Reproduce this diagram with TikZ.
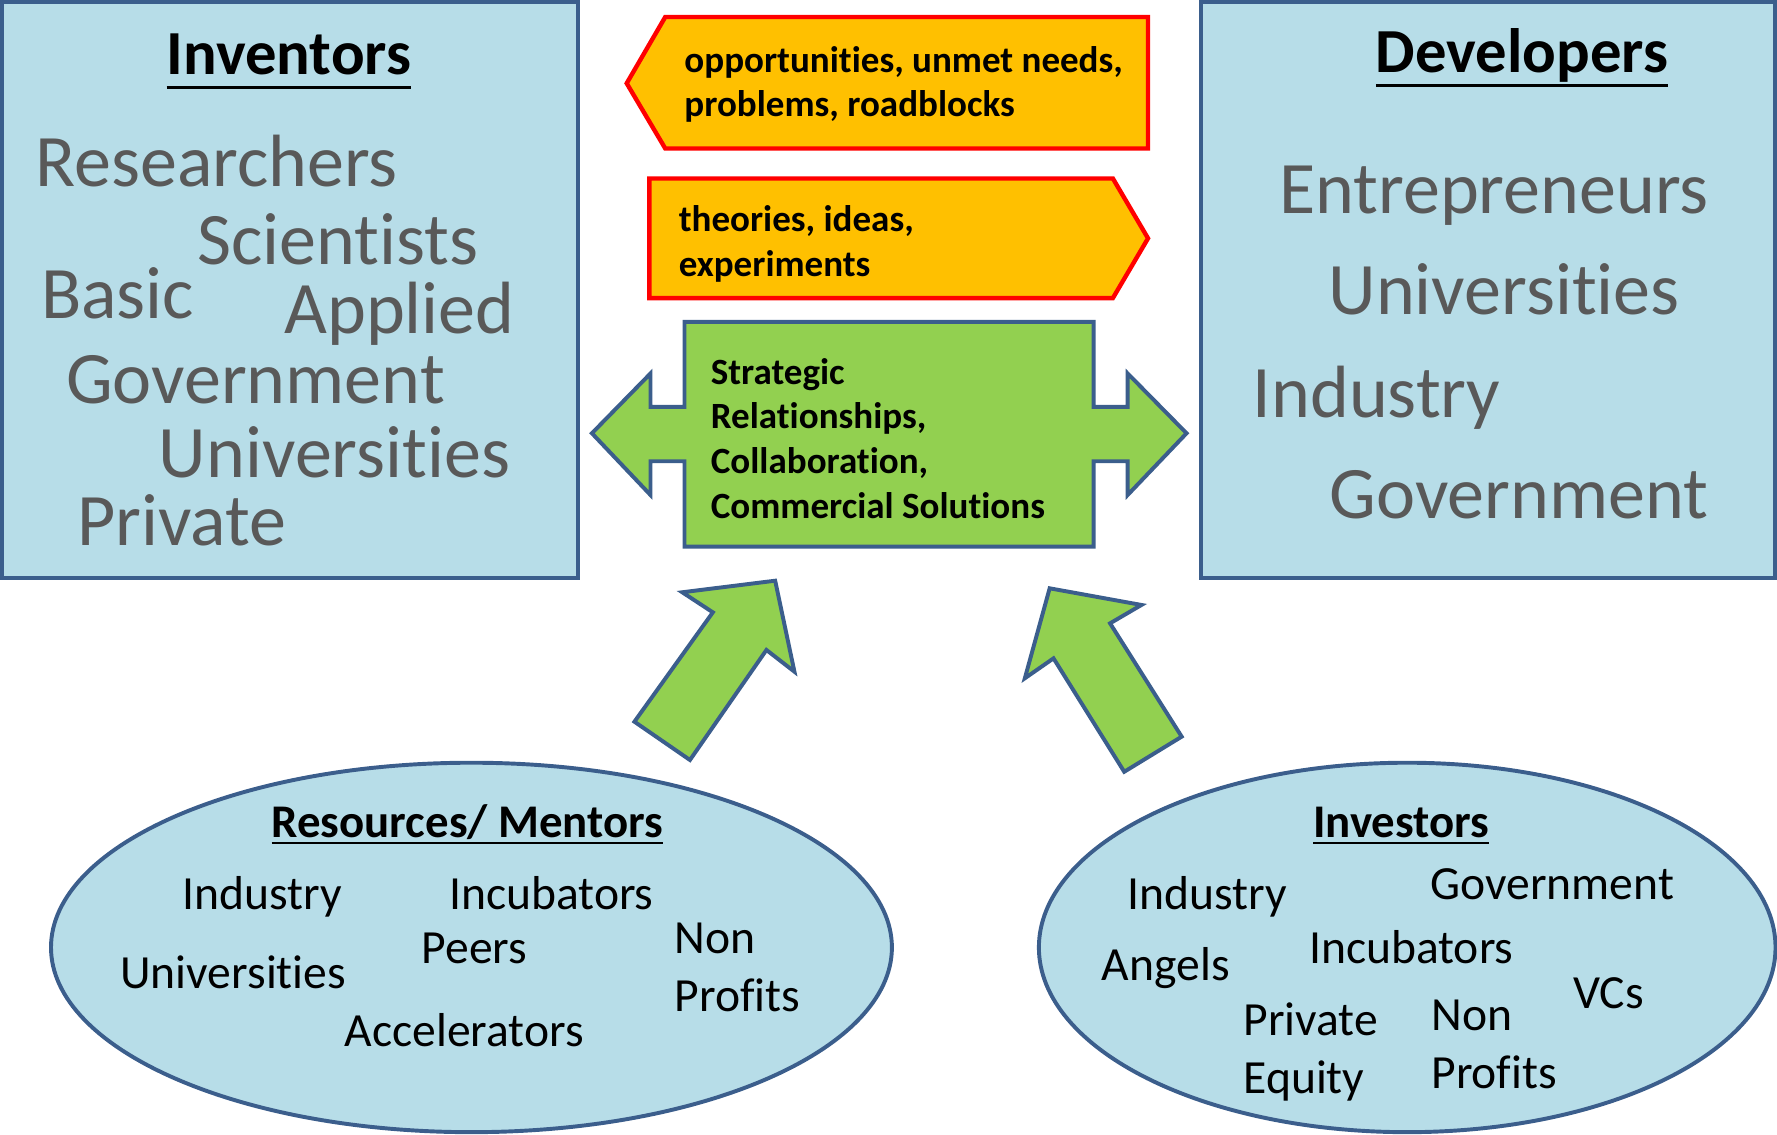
\documentclass[tikz,border=0pt]{standalone}
\usepackage{fontspec}
\setmainfont[Ligatures=CommonOff]{Carlito}
\usepackage{tikz}

\newcommand{\ulhead}[2][0.23em]{\setbox0\hbox{#2}\rlap{#2}\raisebox{-#1}{\rule{\wd0}{0.055em}}}

\begin{document}
\begin{tikzpicture}[x=0.75pt,y=0.75pt,yscale=-1,xscale=1,
  panel/.style={draw={rgb, 255:red, 59; green, 94; blue, 140}, fill={rgb, 255:red, 183; green, 221; blue, 232}, line width=2.6pt},
  tagshape/.style={draw={rgb, 255:red, 255; green, 0; blue, 0}, fill={rgb, 255:red, 255; green, 192; blue, 0}, line width=2.9pt},
  relshape/.style={draw={rgb, 255:red, 59; green, 94; blue, 140}, fill={rgb, 255:red, 146; green, 208; blue, 80}, line width=2.6pt},
  boxword/.style={inner sep=0pt, anchor=base west, text={rgb, 255:red, 89; green, 89; blue, 89}, font=\fontsize{49}{59}\selectfont},
  boxhead/.style={inner sep=0pt, anchor=base, font=\fontsize{41.5}{50}\selectfont\bfseries},
  tagtext/.style={inner sep=0pt, anchor=base west, align=left, font=\fontsize{24.5}{29.6}\selectfont\bfseries},
  ringword/.style={inner sep=0pt, anchor=base west, align=left, font=\fontsize{31.5}{38.25}\selectfont},
  ringhead/.style={inner sep=0pt, anchor=base, font=\fontsize{31}{38}\selectfont\bfseries}]
\useasboundingbox (0,0) rectangle (1568,1001);

%Shape: Rectangle
\draw [panel] (1.5,1.5) rectangle (510,510) ;
%Shape: Rectangle
\draw [panel] (1060,1.5) rectangle (1566,510) ;
%Shape: Ellipse
\draw [panel] (416,836) ellipse [x radius=371, y radius=163] ;
%Shape: Ellipse
\draw [panel] (1241.7,836) ellipse [x radius=325, y radius=163] ;

%Shape: Pentagon (left)
\draw [tagshape] (553,73.5) -- (587,15) -- (1013,15) -- (1013,131) -- (587,131) -- cycle ;
%Shape: Pentagon (right)
\draw [tagshape] (573,157.5) -- (982,157.5) -- (1013,210.3) -- (982,263) -- (573,263) -- cycle ;

%Shape: Left-Right Arrow Callout
\draw [relshape] (604,284) -- (965,284) -- (965,359) -- (995,359) -- (995,329.5) -- (1047,382.3) -- (995,436.8) -- (995,407) -- (965,407) -- (965,482.4) -- (604,482.4) -- (604,407) -- (574,407) -- (574,436.8) -- (522.3,382.3) -- (574,329.5) -- (574,359) -- (604,359) -- cycle ;

%Shape: Up Arrow (left)
\draw [relshape] (559.8,636.8) -- (608.8,670.6) -- (676.3,573.5) -- (701,592.7) -- (684,512.4) -- (602,522.6) -- (629,540.3) -- cycle ;
%Shape: Up Arrow (right)
\draw [relshape] (1042.7,650) -- (992,681) -- (929.6,580.9) -- (904.3,598.5) -- (926.2,519.1) -- (1007.2,533.8) -- (979.5,550) -- cycle ;

% Text Node
\draw (255,65.9) node [boxhead] (inventors) {\ulhead{Inventors}};
\draw (31,164.5) node [boxword] (researchers) {Researchers};
\draw (174,233.7) node [boxword] (scientists) {Scientists};
\draw (36,281) node [boxword] (basic) {Basic};
\draw (250.6,294.5) node [boxword] (applied) {Applied};
\draw (58,356) node [boxword] (invgov) {Government};
\draw (140,421) node [boxword] (invuni) {Universities};
\draw (68,481) node [boxword] (invpriv) {Private};

% Text Node
\draw (1343,64.4) node [boxhead] (developers) {\ulhead{Developers}};
\draw (1128.4,188.3) node [boxword] (entrepreneurs) {Entrepreneurs};
\draw (1172,277.5) node [boxword] (devuni) {Universities};
\draw (1105,368.4) node [boxword] (devind) {Industry};
\draw (1173,457.5) node [boxword] (devgov) {Government};

% Text Node (base = last line)
\draw (603.7,103) node [tagtext] (needs) {opportunities, unmet needs,\\problems, roadblocks};
\draw (598.7,244.1) node [tagtext] (theories) {theories, ideas,\\experiments};
\draw (627,457.4) node [tagtext] (strategic) {Strategic\\Relationships,\\Collaboration,\\Commercial Solutions};

% Text Node
\draw (412.5,738.8) node [ringhead] (resources) {\ulhead[0.15em]{Resources/ Mentors}};
\draw (161,802.4) node [ringword] (resind) {Industry};
\draw (396,802.4) node [ringword] (resinc) {Incubators};
\draw (372,850) node [ringword] (peers) {Peers};
\draw (595,892.7) node [ringword] (resnon) {Non\\Profits};
\draw (106,872) node [ringword] (resuni) {Universities};
\draw (304,923.6) node [ringword] (accel) {Accelerators};

% Text Node
\draw (1236.5,738.8) node [ringhead] (investors) {\ulhead[0.15em]{Investors}};
\draw (995,802.4) node [ringword] (investind) {Industry};
\draw (1262,794) node [ringword] (investgov) {Government};
\draw (972,865.3) node [ringword] (angels) {Angels};
\draw (1154.8,850) node [ringword] (investinc) {Incubators};
\draw (1388,889.7) node [ringword] (vcs) {VCs};
\draw (1097,964.7) node [ringword] (equity) {Private\\Equity};
\draw (1262.8,960.3) node [ringword] (investnon) {Non\\Profits};

\end{tikzpicture}
\end{document}
